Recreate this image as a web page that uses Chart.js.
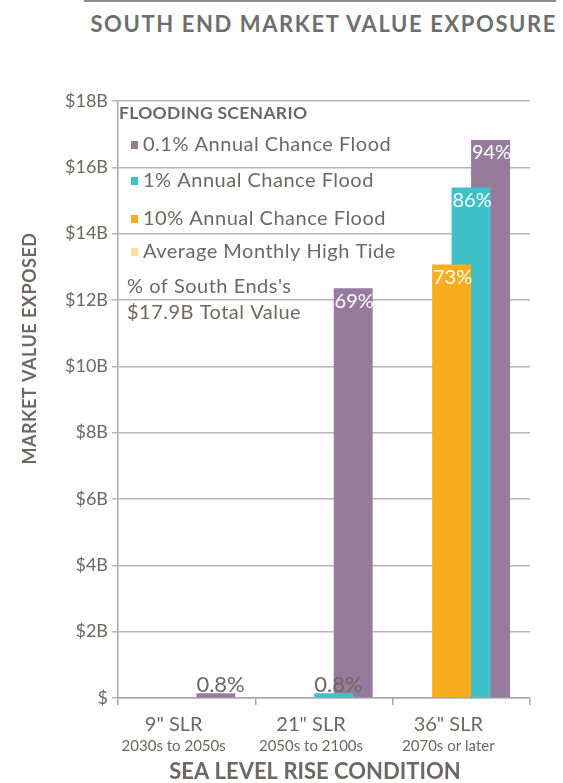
<!DOCTYPE html>
<html>
<head>
<meta charset="utf-8">
<script src="https://cdn.jsdelivr.net/npm/chart.js@4/dist/chart.umd.min.js"></script>
<style>
  html, body { margin: 0; padding: 0; background: #fff; }
  #wrap { position: relative; width: 563px; height: 783px; }
  #rule { position: absolute; left: 84px; top: 0; width: 472px; height: 2px; background: #8c8c8c; }
  #title {
    position: absolute; right: 6px; top: 10px;
    font: bold 22px Lato, sans-serif; letter-spacing: 1.6px; color: #6e6e6e;
    white-space: nowrap;
  }
  canvas { position: absolute; left: 0; top: 0; }
</style>
</head>
<body>
<div id="wrap">
  <div id="rule"></div>
  <div id="title">SOUTH END MARKET VALUE EXPOSURE</div>
  <canvas id="c" width="563" height="783"></canvas>
</div>
<script>
// Sea level rise conditions (two-line labels)
const conditions = ['9" SLR', '21" SLR', '36" SLR'];
const periods = ['2030s to 2050s', '2050s to 2100s', '2070s or later'];

// Total market value of the South End, in $B
const totalValue = 17.9;

// Share of total value exposed, in percent (null = no exposure shown)
const tidePct = [null, null, null];
const flood10Pct = [null, null, 73];
const flood1Pct = [null, 0.8, 86];
const flood01Pct = [0.8, 69, 94];

// Y axis ticks in $B
const yTicks = [0, 2, 4, 6, 8, 10, 12, 14, 16, 18];

const seriesNames = ['Average Monthly High Tide', '10% Annual Chance Flood', '1% Annual Chance Flood', '0.1% Annual Chance Flood'];
const seriesColors = ['#fddc9c', '#f8ae1c', '#3fc0cb', '#977b9c'];
const seriesPct = [tidePct, flood10Pct, flood1Pct, flood01Pct];

const TEXT = '#6f6763';
const FONT = 'Lato, sans-serif';

const toValue = arr => arr.map(p => p === null ? null : p / 100 * totalValue);

// Percent labels on each bar
const pctLabels = {
  id: 'pctLabels',
  afterDatasetsDraw(chart) {
    const ctx = chart.ctx;
    ctx.save();
    chart.data.datasets.forEach((ds, di) => {
      const meta = chart.getDatasetMeta(di);
      meta.data.forEach((bar, j) => {
        const p = seriesPct[di][j];
        if (p === null) return;
        const txt = p + '%';
        const h = bar.base - bar.y;
        if (h > 30) {
          ctx.font = '20px ' + FONT;
          ctx.fillStyle = '#ffffff';
          ctx.textAlign = 'center';
          ctx.textBaseline = 'middle';
          ctx.fillText(txt, bar.x + 1, bar.y + 13);
        } else {
          ctx.font = '22px ' + FONT;
          ctx.fillStyle = TEXT;
          ctx.textAlign = 'left';
          ctx.textBaseline = 'alphabetic';
          ctx.fillText(txt, bar.x - bar.width / 2, bar.y - 1);
        }
      });
    });
    ctx.restore();
  }
};

// Legend block, axis titles and two-line category labels
const annotations = {
  id: 'annotations',
  afterDraw(chart) {
    const ctx = chart.ctx;
    const area = chart.chartArea;
    const x = chart.scales.x;
    ctx.save();
    ctx.fillStyle = TEXT;
    ctx.textBaseline = 'middle';
    ctx.textAlign = 'left';

    // legend
    const lx = area.left + 1;
    ctx.font = 'bold 17.5px ' + FONT;
    ctx.letterSpacing = '0.3px';
    ctx.fillText('FLOODING SCENARIO', lx, area.top + 12);
    ctx.letterSpacing = '0.5px';
    const order = [3, 2, 1, 0];
    const rows = [44, 80, 118, 151];
    order.forEach((di, k) => {
      const y = area.top + rows[k];
      ctx.fillStyle = chart.data.datasets[di].backgroundColor;
      ctx.fillRect(lx + 12, y - 4, 7, 8);
      ctx.fillStyle = TEXT;
      ctx.font = '20px ' + FONT;
      ctx.fillText(chart.data.datasets[di].label, lx + 24, y);
    });
    ctx.font = '20px ' + FONT;
    ctx.fillText("% of South Ends's", lx + 8, area.top + 186);
    ctx.fillText('$17.9B Total Value', lx + 8, area.top + 212);
    ctx.letterSpacing = '0px';

    // category labels
    ctx.textAlign = 'center';
    conditions.forEach((c, i) => {
      const cx = x.getPixelForValue(i) - 13;
      ctx.font = '20px ' + FONT;
      ctx.fillText(c, cx, area.bottom + 27);
      ctx.font = '15px ' + FONT;
      ctx.fillText(periods[i], cx, area.bottom + 48);
    });

    // x axis title
    ctx.font = 'bold 22px ' + FONT;
    ctx.fillText('SEA LEVEL RISE CONDITION', (area.left + area.right) / 2 - 9, area.bottom + 74);

    // y axis title
    ctx.translate(30, (area.top + area.bottom) / 2 - 51);
    ctx.rotate(-Math.PI / 2);
    ctx.font = 'bold 18px ' + FONT;
    ctx.letterSpacing = '0.5px';
    ctx.fillText('MARKET VALUE EXPOSED', 0, 0);
    ctx.restore();
  }
};

new Chart(document.getElementById('c'), {
  type: 'bar',
  data: {
    labels: conditions,
    datasets: seriesNames.map((name, i) => ({
      label: name,
      data: toValue(seriesPct[i]),
      backgroundColor: seriesColors[i],
      borderWidth: 0,
      categoryPercentage: 0.567,
      barPercentage: 2.0
    }))
  },
  options: {
    responsive: false,
    animation: false,
    layout: { padding: { top: 101, right: 33, left: 0, bottom: 0 } },
    plugins: { legend: { display: false }, tooltip: { enabled: false } },
    scales: {
      x: {
        offset: true,
        grid: { offset: true, drawOnChartArea: false, tickLength: 7, color: '#a8a8a8', lineWidth: 1.5 },
        border: { color: '#a8a8a8', width: 1.5 },
        ticks: { display: false },
        afterFit(s) { s.height = 85; }
      },
      y: {
        min: 0, max: 18,
        afterBuildTicks(s) { s.ticks = yTicks.map(v => ({ value: v })); },
        grid: { color: '#b6b6b6', lineWidth: 1.5, tickLength: 6 },
        border: { color: '#a8a8a8', width: 1.5 },
        ticks: {
          color: TEXT,
          font: { family: FONT, size: 18 },
          padding: 4,
          callback: v => v === 0 ? '$' : '$' + v + 'B'
        },
        afterFit(s) { s.width = 118; }
      }
    }
  },
  plugins: [pctLabels, annotations]
});
</script>
</body>
</html>
